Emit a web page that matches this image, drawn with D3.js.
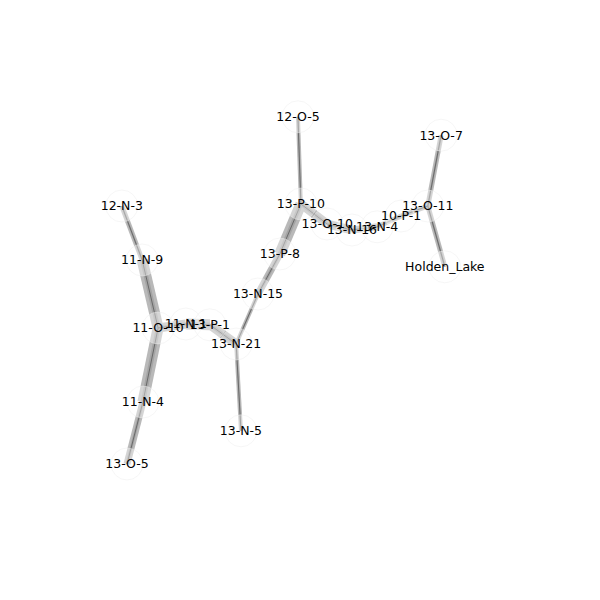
<!DOCTYPE html>
<html>
<head>
<meta charset="utf-8">
<script src="https://d3js.org/d3.v7.min.js"></script>
<style>
  body { margin: 0; background: #fff; }
  .graph-disp { width: 600px; height: 600px; }
</style>
</head>
<body>
<div class="graph-disp"></div>
<script>
// node names and their layout positions (unit square)
const nodeIds = ["12-O-5", "13-O-7", "12-N-3", "13-P-10", "13-O-11", "10-P-1", "13-O-10", "13-N-16",
                 "13-N-4", "Holden_Lake", "11-N-9", "13-P-8", "13-N-15", "11-N-1", "11-O-10", "13-P-1",
                 "13-N-21", "11-N-4", "13-N-5", "13-O-5"];
const nodeX = [0.535, 0.922, 0.059, 0.543, 0.886, 0.814, 0.614, 0.681,
               0.749, 0.932, 0.114, 0.486, 0.427, 0.232, 0.157, 0.297,
               0.368, 0.116, 0.381, 0.073];
const nodeY = [0.958, 0.912, 0.735, 0.740, 0.735, 0.710, 0.690, 0.675,
               0.683, 0.583, 0.600, 0.615, 0.515, 0.440, 0.430, 0.438,
               0.390, 0.245, 0.173, 0.090];

// edges and their weights
const linkSource = ["12-N-3", "11-N-9", "11-O-10", "11-N-4", "11-O-10", "11-N-1", "13-P-1", "13-N-21",
                    "13-N-21", "13-N-15", "13-P-8", "13-P-10", "13-P-10", "13-O-10", "13-N-16", "13-N-4",
                    "10-P-1", "13-O-11", "13-O-11"];
const linkTarget = ["11-N-9", "11-O-10", "11-N-4", "13-O-5", "11-N-1", "13-P-1", "13-N-21", "13-N-5",
                    "13-N-15", "13-P-8", "13-P-10", "12-O-5", "13-O-10", "13-N-16", "13-N-4", "10-P-1",
                    "13-O-11", "13-O-7", "Holden_Lake"];
const linkWeight = [2, 5, 5, 3, 4, 5, 4, 1.5,
                    1.5, 3, 5, 1.5, 4, 4, 3, 2,
                    2, 2, 2];

const nodes = nodeIds.map((id, i) => ({ id: id, x: nodeX[i], y: nodeY[i] }));
const byId = new Map(nodes.map(d => [d.id, d]));
const links = linkSource.map((s, i) => ({
    source: byId.get(s),
    target: byId.get(linkTarget[i]),
    weight: linkWeight[i]
}));

const container = d3.select(".graph-disp");
const width = 600, height = 600;
const svg = container.append("svg")
    .attr("width", width)
    .attr("height", height);

const x = d3.scaleLinear().domain([0, 1]).range([100, 470]);
const y = d3.scaleLinear().domain([0, 1]).range([500, 100]);
const w = d3.scaleLinear().domain([1, 5]).range([3, 11]);

// edges: wide pale band, narrower darker band, thin core line
const layers = [
    { cls: "outer", color: "#b9b9b9", opacity: 1, width: d => w(d.weight) },
    { cls: "inner", color: "#a4a4a4", opacity: 1, width: d => w(d.weight) * 0.4 },
    { cls: "core", color: "#5a5a5a", opacity: 0.8, width: () => 1 }
];
layers.forEach(layer => {
    svg.append("g")
        .attr("class", "links-" + layer.cls)
        .selectAll("line")
        .data(links)
        .enter().append("line")
        .attr("x1", d => x(d.source.x))
        .attr("y1", d => y(d.source.y))
        .attr("x2", d => x(d.target.x))
        .attr("y2", d => y(d.target.y))
        .attr("stroke", layer.color)
        .attr("stroke-opacity", layer.opacity)
        .attr("stroke-width", layer.width)
        .attr("stroke-linecap", "butt");
});

// nodes: very faint white discs
svg.append("g")
    .attr("class", "nodes")
    .selectAll("circle")
    .data(nodes)
    .enter().append("circle")
    .attr("cx", d => x(d.x))
    .attr("cy", d => y(d.y))
    .attr("r", 16)
    .attr("fill", "#fff")
    .attr("fill-opacity", 0.4)
    .attr("stroke", "#ececec")
    .attr("stroke-opacity", 0.45)
    .attr("stroke-width", 1);

// labels
svg.append("g")
    .attr("class", "nodelabels")
    .selectAll("text")
    .data(nodes)
    .enter().append("text")
    .attr("x", d => x(d.x))
    .attr("y", d => y(d.y))
    .attr("text-anchor", "middle")
    .attr("dy", ".35em")
    .style("font-family", "DejaVu Sans, sans-serif")
    .style("font-size", "12.5px")
    .style("fill", "#000")
    .text(d => d.id);
</script>
</body>
</html>
